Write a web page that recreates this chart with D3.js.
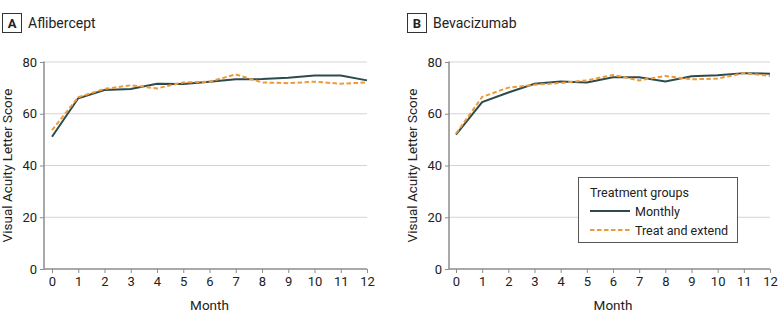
<!DOCTYPE html>
<html>
<head>
<meta charset="utf-8">
<script src="https://cdn.jsdelivr.net/npm/d3@7"></script>
<style>
  body { margin: 0; background: #fff; }
  text { font-family: Roboto, "Noto Sans", sans-serif; fill: #222; }
</style>
</head>
<body>
<svg id="chart" width="783" height="324"></svg>
<script>
let months = [0, 1, 2, 3, 4, 5, 6, 7, 8, 9, 10, 11, 12];
let yTicks = [0, 20, 40, 60, 80];

let aflMonthly = [51.1, 66.0, 69.2, 69.6, 71.6, 71.5, 72.4, 73.3, 73.4, 73.9, 74.8, 74.8, 72.9];
let aflTreat   = [53.7, 66.4, 69.6, 71.0, 69.8, 72.1, 72.4, 75.2, 72.1, 71.8, 72.4, 71.6, 72.1];
let bevMonthly = [51.9, 64.5, 68.2, 71.6, 72.5, 72.1, 74.1, 74.1, 72.5, 74.5, 74.9, 75.7, 75.5];
let bevTreat   = [52.3, 66.5, 70.1, 71.2, 71.9, 72.9, 75.0, 72.9, 74.6, 73.3, 73.6, 75.7, 74.6];

let groupNames = ["Monthly", "Treat and extend"];

let darkColor = "#2d4b4d";
let orangeColor = "#ee9a3a";
let axisColor = "#8c8c8c";
let gridColor = "#d4d4d4";

let svg = d3.select("#chart");

function drawPanel(svg, letter, title, monthly, treat, left, right, axisX) {
    let top = 62, bottom = 269;
    let x = d3.scaleLinear().domain([0, 12]).range([left, right]);
    let y = d3.scaleLinear().domain([0, 80]).range([bottom, top]);

    // header
    svg.append("rect")
        .attr("x", axisX - 41.5).attr("y", 13.5)
        .attr("width", 19).attr("height", 19)
        .style("fill", "none").style("stroke", "#333").style("stroke-width", 1);
    svg.append("text")
        .attr("x", axisX - 32).attr("y", 28)
        .attr("text-anchor", "middle")
        .style("font-weight", "bold").style("font-size", "13px")
        .text(letter);
    svg.append("text")
        .attr("x", axisX - 16).attr("y", 28)
        .style("font-size", "14px")
        .text(title);

    // gridlines
    svg.append("g")
        .selectAll("line")
        .data(yTicks.filter(d => d > 0))
        .enter().append("line")
        .attr("x1", axisX).attr("x2", right)
        .attr("y1", d => y(d)).attr("y2", d => y(d))
        .style("stroke", gridColor).style("stroke-width", 1);

    // y axis
    let ya = svg.append("g")
        .attr("transform", "translate(" + axisX + ",0)")
        .call(d3.axisLeft(y).tickValues(yTicks).tickSize(4).tickPadding(3));
    ya.select(".domain").remove();
    ya.selectAll("line").style("stroke", axisColor);
    ya.selectAll("text").style("font-size", "13px").style("font-family", "Roboto").style("fill", "#222");
    svg.append("line")
        .attr("x1", axisX).attr("x2", axisX)
        .attr("y1", top - 0.5).attr("y2", bottom)
        .style("stroke", axisColor).style("stroke-width", 1.5);

    // x axis
    let xa = svg.append("g")
        .attr("transform", "translate(0," + bottom + ")")
        .call(d3.axisBottom(x).tickValues(months).tickSize(4).tickPadding(4));
    xa.select(".domain").remove();
    xa.selectAll("line").style("stroke", axisColor);
    xa.selectAll("text").style("font-size", "13px").style("font-family", "Roboto").style("fill", "#222");
    svg.append("line")
        .attr("x1", axisX).attr("x2", right)
        .attr("y1", bottom).attr("y2", bottom)
        .style("stroke", axisColor).style("stroke-width", 1.5);

    svg.append("text")
        .attr("x", (left + right) / 2).attr("y", 310)
        .attr("text-anchor", "middle")
        .style("font-size", "13.5px")
        .text("Month");
    svg.append("text")
        .attr("transform", "translate(" + (axisX - 32) + "," + ((top + bottom) / 2) + ") rotate(-90)")
        .attr("text-anchor", "middle")
        .style("font-size", "13.5px")
        .text("Visual Acuity Letter Score");

    let line = d3.line()
        .x((d, i) => x(months[i]))
        .y(d => y(d));

    svg.append("path")
        .datum(monthly)
        .attr("d", line)
        .style("fill", "none").style("stroke", darkColor).style("stroke-width", 2);
    svg.append("path")
        .datum(treat)
        .attr("d", line)
        .style("fill", "none").style("stroke", orangeColor).style("stroke-width", 2)
        .style("stroke-dasharray", "4.5, 2.5");
}

drawPanel(svg, "A", "Aflibercept", aflMonthly, aflTreat, 52, 367, 44);
drawPanel(svg, "B", "Bevacizumab", bevMonthly, bevTreat, 456, 770, 449);

// legend
function addLegend(svg, lx, ly) {
    svg.append("rect")
        .attr("x", lx + 0.5).attr("y", ly + 0.5)
        .attr("width", 159).attr("height", 65)
        .style("fill", "#fff").style("stroke", "#555").style("stroke-width", 1);
    svg.append("text")
        .attr("x", lx + 12).attr("y", ly + 20)
        .style("font-size", "12.5px")
        .text("Treatment groups");
    let colors = [darkColor, orangeColor];
    let dashes = [null, "4.5, 2.5"];
    groupNames.forEach(function (name, i) {
        let yy = ly + 34 + 19 * i;
        svg.append("line")
            .attr("x1", lx + 12).attr("x2", lx + 52)
            .attr("y1", yy).attr("y2", yy)
            .style("stroke", colors[i]).style("stroke-width", 2)
            .style("stroke-dasharray", dashes[i]);
        svg.append("text")
            .attr("x", lx + 57).attr("y", yy + 4.5)
            .style("font-size", "12.5px")
            .text(name);
    });
}
addLegend(svg, 578, 177);
</script>
</body>
</html>
